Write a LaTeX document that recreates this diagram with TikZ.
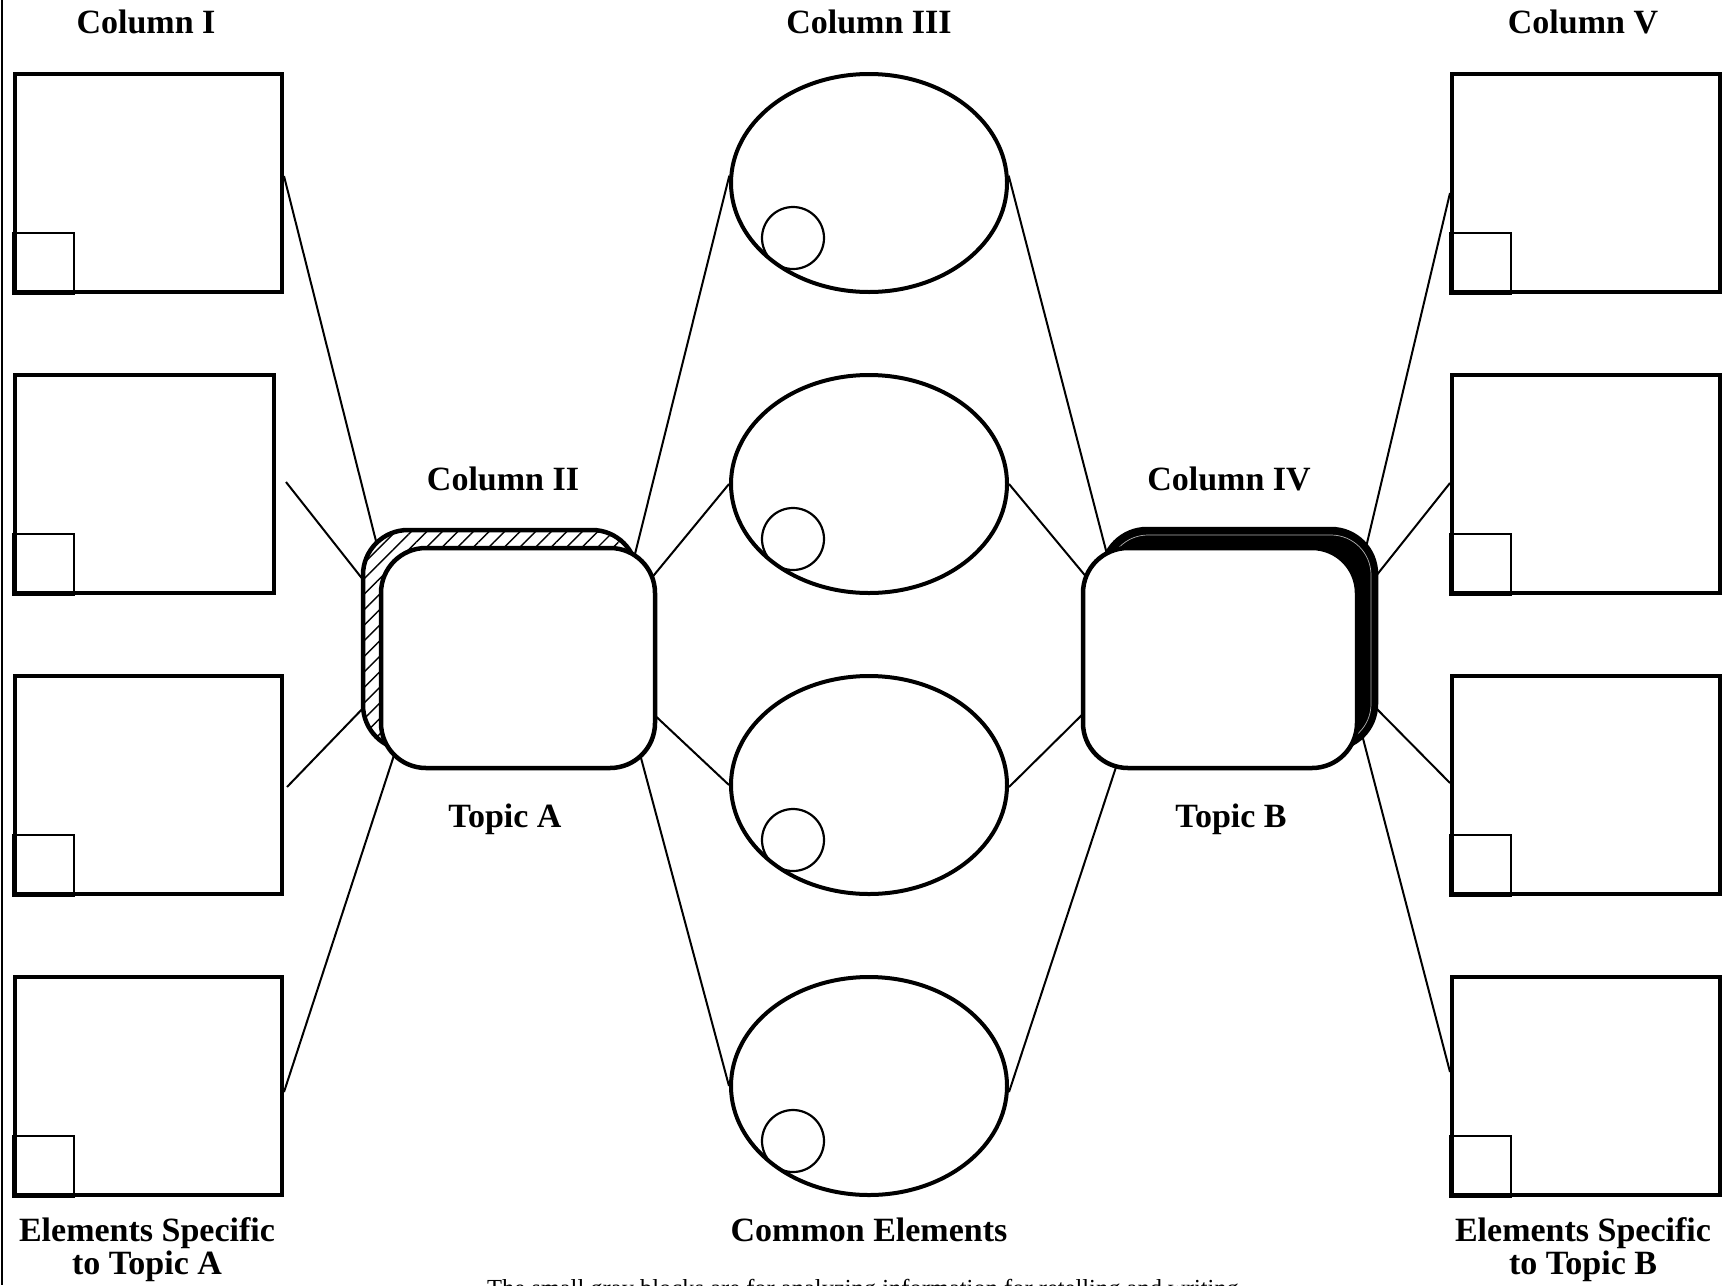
\documentclass[tikz,border=0pt]{standalone}
\usepackage{fontspec}
\setmainfont{Liberation Serif}
\usetikzlibrary{shapes.geometric,patterns.meta}
\begin{document}
\begin{tikzpicture}[x=1pt,y=-1pt,
  lbl/.style={font=\fontsize{34}{36}\selectfont\bfseries, anchor=base, inner sep=0pt},
  capt/.style={font=\fontsize{24.5}{26}\selectfont, anchor=base, inner sep=0pt},
  bigbox/.style={draw, line width=4pt, minimum height=218pt, inner sep=0pt},
  mini/.style={draw, line width=2pt},
  oval/.style={ellipse, draw, line width=4pt, minimum width=276pt, minimum height=218pt, inner sep=0pt},
  dot/.style={circle, draw, line width=2.2pt, minimum size=62pt, inner sep=0pt},
  link/.style={line width=2pt},
  topicshape/.style={draw, line width=4.5pt, rounded corners=45pt, minimum width=274pt, minimum height=220pt, inner sep=0pt},
  hatchshadow/.style={topicshape, preaction={fill=white}, pattern={Lines[angle=45,distance=11pt,line width=1.4pt]}},
  blackshadow/.style={topicshape, fill=black},
  front/.style={topicshape, fill=white}
]
\useasboundingbox (0,0) rectangle (1729,1285);
\fill[white] (0,0) rectangle (1729,1285);
\draw[line width=1.5pt] (2,0) -- (2,1285);

% boxes, column I
\node[bigbox, minimum width=267pt] (L1) at (148.5,183) {};
\node[bigbox, minimum width=259pt] (L2) at (144.5,484) {};
\node[bigbox, minimum width=267pt] (L3) at (148.5,785) {};
\node[bigbox, minimum width=267pt] (L4) at (148.5,1086) {};
% boxes, column V
\node[bigbox, minimum width=268pt] (R1) at (1586,183) {};
\node[bigbox, minimum width=268pt] (R2) at (1586,484) {};
\node[bigbox, minimum width=268pt] (R3) at (1586,785) {};
\node[bigbox, minimum width=268pt] (R4) at (1586,1086) {};
\foreach \b in {L1,L2,L3,L4,R1,R2,R3,R4}{
  \draw[mini] (\b.south west) rectangle ++(61,-61);
}
% ellipses, column III
\node[oval] (E1) at (869,183) {};
\node[oval] (E2) at (869,484) {};
\node[oval] (E3) at (869,785) {};
\node[oval] (E4) at (869,1086) {};
\foreach \e/\d in {E1/D1,E2/D2,E3/D3,E4/D4}{
  \node[dot] (\d) at ([xshift=-76pt,yshift=-55pt]\e.center) {};
}

% connector ends inside the topic shapes
\coordinate (a1) at (379,553);
\coordinate (a2) at (368,586);
\coordinate (a3) at (368,703);
\coordinate (a4) at (398,743);
\coordinate (b1) at (633,562);
\coordinate (b2) at (645,586);
\coordinate (b3) at (648,709);
\coordinate (b4) at (637,743);
\coordinate (d1) at (1109,562);
\coordinate (d2) at (1093,585);
\coordinate (d3) at (1092,705);
\coordinate (d4) at (1120,755);
\coordinate (g1) at (1363,560);
\coordinate (g2) at (1368,586);
\coordinate (g3) at (1368,700);
\coordinate (g4) at (1360,727);

\draw[link] ([yshift=7pt]L1.east) -- (a1);
\draw[link] ([xshift=10pt,yshift=2pt]L2.east) -- (a2);
\draw[link] ([xshift=3pt,yshift=-2pt]L3.east) -- (a3);
\draw[link] ([yshift=-6pt]L4.east) -- (a4);
\draw[link] (E1.177) -- (b1);
\draw[link] (E2.west) -- (b2);
\draw[link] (E3.west) -- (b3);
\draw[link] (E4.west) -- (b4);
\draw[link] (E1.3) -- (d1);
\draw[link] (E2.east) -- (d2);
\draw[link] ([yshift=-2pt]E3.east) -- (d3);
\draw[link] ([yshift=-6pt]E4.east) -- (d4);
\draw[link] ([yshift=-10pt]R1.west) -- (g1);
\draw[link] ([yshift=1pt]R2.west) -- (g2);
\draw[link] ([yshift=2pt]R3.west) -- (g3);
\draw[link] ([yshift=14pt]R4.west) -- (g4);

% topic A
\node[hatchshadow] (SA) at (500,640) {};
\node[front] (TA) at (518,658) {};
% topic B
\node[blackshadow] (SB) at (1239,639) {};
\draw[gray!60, line width=0.7pt, rounded corners=40pt] (1108,535) rectangle (1371,744);
\node[front] (TB) at (1220,658) {};

% labels
\node[lbl] (h1) at (146,33) {Column I};
\node[lbl] (h3) at (869,33) {Column III};
\node[lbl] (h5) at (1583,33) {Column V};
\node[lbl] (h2) at (503,490) {Column II};
\node[lbl] (h4) at (1229,490) {Column IV};
\node[lbl] (tA) at (505,827) {Topic A};
\node[lbl] (tB) at (1231,827) {Topic B};
\node[lbl] (cm) at (869,1241) {Common Elements};
\node[lbl] (sa1) at (147,1241) {Elements Specific};
\node[lbl] (sa2) at (147,1274) {to Topic A};
\node[lbl] (sb1) at (1583,1241) {Elements Specific};
\node[lbl] (sb2) at (1583,1274) {to Topic B};
\node[capt] (cp) at (866,1296) {The small gray blocks are for analyzing information for retelling and writing.};
\end{tikzpicture}
\end{document}
